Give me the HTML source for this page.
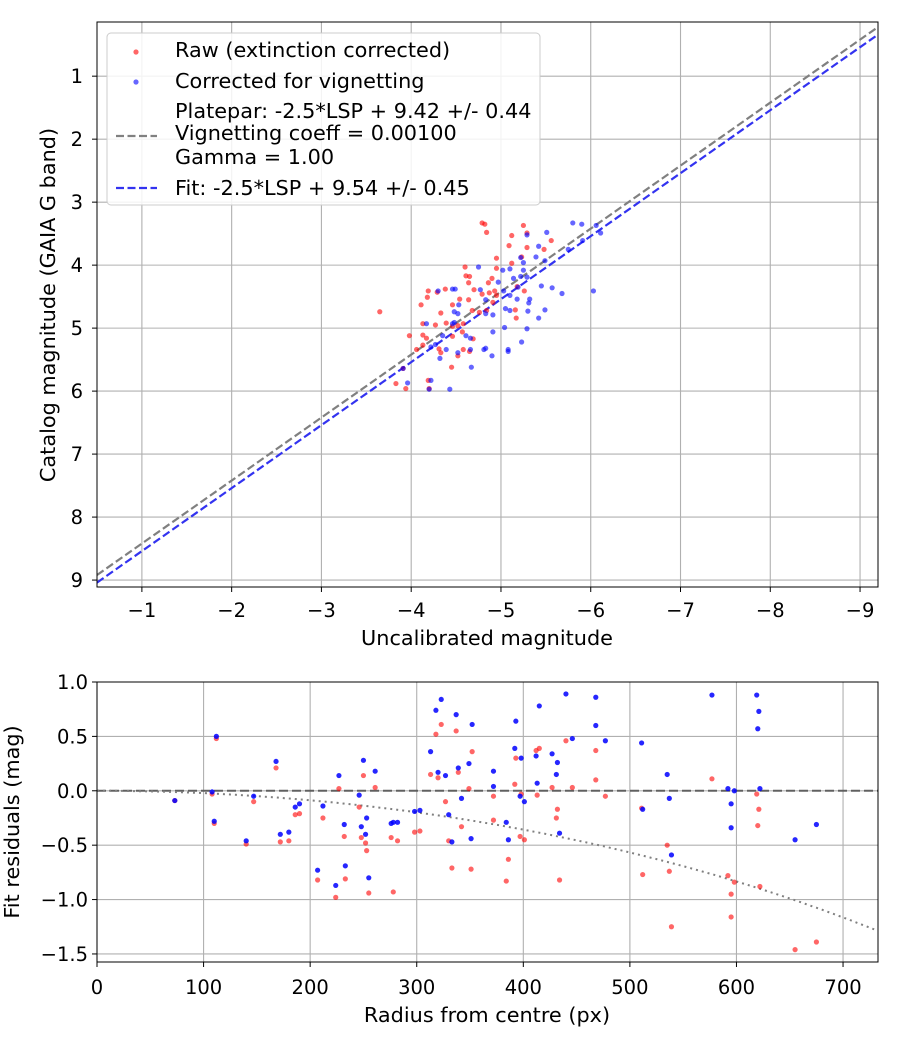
<!DOCTYPE html>
<html><head><meta charset="utf-8"><style>
body{margin:0;background:#fff;font-family:"Liberation Sans","DejaVu Sans",sans-serif;}
svg text{font-family:"DejaVu Sans","Liberation Sans",sans-serif;fill:#000;}
</style></head><body>
<svg id="c" width="900" height="1050" viewBox="0 0 900 1050" xmlns="http://www.w3.org/2000/svg"></svg>
<script>
const topXTicks=[-1,-2,-3,-4,-5,-6,-7,-8,-9];
const topYTicks=[1,2,3,4,5,6,7,8,9];
const botXTicks=[0,100,200,300,400,500,600,700];
const botYTicks=[1.0,0.5,0.0,-0.5,-1.0,-1.5];
const plateparOffset=9.42;
const fitOffset=9.54;
const vignettingCoeff=0.001;
const rawX=[-4.79,-4.82,-4.84,-5.25,-5.12,-5.29,-5.09,-5.29,-5.56,-5.48,-4.95,-5.23,-5.12,-4.60,-4.95,-4.61,-4.65,-4.64,-4.90,-4.86,-4.19,-4.29,-4.38,-4.18,-4.70,-4.79,-4.87,-4.93,-4.95,-4.91,-5.18,-5.26,-4.54,-4.64,-4.46,-4.11,-4.68,-4.76,-4.84,-4.33,-5.16,-5.17,-4.13,-4.27,-4.39,-4.46,-4.58,-4.52,-3.98,-4.13,-4.17,-4.46,-4.57,-4.69,-4.06,-4.13,-4.31,-4.33,-4.58,-4.65,-4.52,-4.45,-3.91,-3.83,-3.94,-4.19,-4.20,-3.65];
const rawY=[3.33,3.35,3.48,3.37,3.53,3.49,3.69,3.72,3.61,3.75,3.89,3.87,3.97,4.03,4.05,4.17,4.18,4.28,4.21,4.28,4.41,4.43,4.38,4.51,4.39,4.46,4.44,4.41,4.48,4.59,4.34,4.41,4.54,4.55,4.63,4.63,4.72,4.75,4.72,4.76,4.71,4.84,4.93,4.95,4.92,4.97,4.93,4.96,5.12,5.11,5.16,5.13,5.06,5.17,5.34,5.27,5.33,5.39,5.34,5.37,5.44,5.62,5.64,5.88,5.96,5.83,5.96,4.74];
const corrX=[-5.80,-5.90,-6.06,-6.11,-5.29,-5.51,-5.91,-5.42,-5.39,-5.22,-5.25,-5.49,-5.75,-4.75,-5.02,-5.10,-5.25,-5.14,-5.22,-5.29,-4.97,-5.45,-5.57,-5.68,-6.03,-4.30,-4.46,-4.49,-4.77,-5.03,-5.10,-5.19,-5.18,-5.32,-5.31,-4.83,-4.53,-4.48,-4.52,-4.83,-4.91,-5.05,-5.10,-5.30,-5.49,-5.42,-4.17,-4.46,-4.48,-5.04,-5.29,-4.35,-4.61,-4.66,-4.91,-4.22,-4.27,-4.39,-4.52,-4.66,-4.81,-4.83,-4.90,-5.08,-5.08,-5.23,-4.32,-4.67,-3.91,-3.96,-4.22,-4.43,-4.20];
const corrY=[3.33,3.35,3.37,3.49,3.52,3.48,3.61,3.70,3.87,3.88,3.96,3.93,3.75,4.03,4.08,4.06,4.08,4.21,4.18,4.19,4.27,4.33,4.36,4.45,4.41,4.41,4.38,4.38,4.39,4.41,4.48,4.35,4.54,4.54,4.60,4.55,4.63,4.74,4.77,4.77,4.79,4.69,4.72,4.73,4.71,4.84,4.93,4.93,4.91,4.99,5.01,5.12,5.12,5.16,5.06,5.30,5.26,5.34,5.39,5.34,5.34,5.32,5.44,5.34,5.37,5.22,5.48,5.62,5.64,5.87,5.83,5.97,5.97];
const radius=[73,108,112,110,140,147,168,172,180,186,190,207,212,224,227,233,232,246,248,250,252,253,255,261,276,278,282,298,303,313,318,320,323,327,330,333,337,339,342,349,351,352,372,372,384,386,392,393,397,398,401,413,412,415,427,431,432,434,440,446,468,468,477,511,512,535,537,539,577,592,595,595,598,619,620,621,622,655,675];
const residCorr=[-0.09,-0.01,0.50,-0.28,-0.46,-0.05,0.27,-0.40,-0.38,-0.15,-0.12,-0.73,-0.14,-0.87,0.14,-0.69,-0.31,-0.04,-0.33,0.28,-0.40,-0.25,-0.80,0.18,-0.30,-0.29,-0.29,-0.19,-0.18,0.36,0.74,0.17,0.84,0.14,-0.22,-0.47,0.70,0.21,-0.07,0.25,-0.44,0.61,0.18,0.04,-0.29,-0.45,0.39,0.64,-0.05,0.30,-0.10,0.07,0.32,0.78,0.34,0.15,0.26,-0.39,0.89,0.48,0.86,0.60,0.46,0.44,-0.17,0.15,-0.07,-0.59,0.88,0.02,-0.12,-0.34,0.00,0.88,0.57,0.73,0.02,-0.45,-0.31];
const residRaw=[-0.09,-0.03,0.48,-0.30,-0.49,-0.10,0.21,-0.47,-0.46,-0.22,-0.21,-0.82,-0.25,-0.98,0.02,-0.81,-0.42,-0.15,-0.43,0.14,-0.48,-0.55,-0.94,0.03,-0.43,-0.93,-0.46,-0.38,-0.37,0.15,0.52,0.12,0.61,-0.10,-0.46,-0.71,0.55,0.17,-0.33,0.02,-0.72,0.36,-0.05,-0.27,-0.83,-0.63,0.06,0.30,-0.42,-0.03,-0.45,-0.04,0.37,0.39,0.03,-0.25,-0.17,-0.82,0.46,0.03,0.37,0.10,-0.05,-0.16,-0.77,-0.50,-0.74,-1.25,0.11,-0.78,-1.16,-0.95,-0.84,-0.03,-0.32,-0.17,-0.88,-1.46,-1.39];

const NS='http://www.w3.org/2000/svg';
const svg=document.getElementById('c');
function mk(tag,attrs,parent){const e=document.createElementNS(NS,tag);for(const k in attrs)e.setAttribute(k,attrs[k]);(parent||svg).appendChild(e);return e;}
const TF=19.5, LF=20.8;

const T={l:97,r:878,t:22,b:587,x0:-0.5,x1:-9.2,y0:0.14,y1:9.11};
const tx=v=>T.l+(v-T.x0)/(T.x1-T.x0)*(T.r-T.l);
const ty=v=>T.t+(v-T.y0)/(T.y1-T.y0)*(T.b-T.t);
const B={l:97,r:878,t:682,b:962,x0:0,x1:732.8,y0:1.0,y1:-1.574};
const bx=v=>B.l+(v-B.x0)/(B.x1-B.x0)*(B.r-B.l);
const by=v=>B.t+(v-B.y0)/(B.y1-B.y0)*(B.b-B.t);

function clip(id,A){const d=mk('clipPath',{id:id});mk('rect',{x:A.l,y:A.t,width:A.r-A.l,height:A.b-A.t},d);}
clip('ct',T);clip('cb',B);

const gTop=mk('g',{});


topXTicks.forEach(v=>{const x=tx(v);mk('line',{x1:x,x2:x,y1:T.t,y2:T.b,stroke:'#b0b0b0','stroke-width':1.1},gTop);mk('line',{x1:x,x2:x,y1:T.b,y2:T.b+5,stroke:'#000'},gTop);
 const t=mk('text',{x:x,y:T.b+30,'text-anchor':'middle','font-size':TF},gTop);t.textContent='\u2212'+Math.abs(v);
 
 });
topYTicks.forEach(v=>{const y=ty(v);mk('line',{x1:T.l,x2:T.r,y1:y,y2:y,stroke:'#b0b0b0','stroke-width':1.1},gTop);mk('line',{x1:T.l-5,x2:T.l,y1:y,y2:y,stroke:'#000'},gTop);
 const t=mk('text',{x:T.l-14,y:y+7,'text-anchor':'end','font-size':TF},gTop);t.textContent=v;
 
 });

const gl=mk('g',{'clip-path':'url(#ct)'});


const l1=mk('line',{x1:tx(T.x0),y1:ty(T.x0+plateparOffset),x2:tx(T.x1),y2:ty(T.x1+plateparOffset),stroke:'#808080','stroke-width':2.2,'stroke-dasharray':'8 3.5'},gl);


const l2=mk('line',{x1:tx(T.x0),y1:ty(T.x0+fitOffset),x2:tx(T.x1),y2:ty(T.x1+fitOffset),stroke:'#3333f0','stroke-width':2.2,'stroke-dasharray':'8 3.5'},gl);


rawX.forEach((v,i)=>{const c=mk('circle',{cx:tx(v),cy:ty(rawY[i]),r:2.6,fill:'rgba(255,0,0,0.6)'});
 
 });
corrX.forEach((v,i)=>{const c=mk('circle',{cx:tx(v),cy:ty(corrY[i]),r:2.6,fill:'rgba(0,0,255,0.6)'});
 
 });
mk('rect',{x:T.l,y:T.t,width:T.r-T.l,height:T.b-T.t,fill:'none',stroke:'#000','stroke-width':1});

const lg=mk('g',{});


mk('rect',{x:107,y:33,width:433,height:172,rx:4,fill:'rgba(255,255,255,0.85)',stroke:'#ccc'},lg);
mk('circle',{cx:136,cy:52,r:2.6,fill:'rgba(255,0,0,0.6)'},lg);
mk('circle',{cx:136,cy:82,r:2.6,fill:'rgba(0,0,255,0.6)'},lg);
mk('line',{x1:116,x2:157,y1:136,y2:136,stroke:'#808080','stroke-width':2.2,'stroke-dasharray':'8 3.5'},lg);
mk('line',{x1:116,x2:157,y1:188,y2:188,stroke:'#3333f0','stroke-width':2.2,'stroke-dasharray':'8 3.5'},lg);
[['Raw (extinction corrected)',57],['Corrected for vignetting',88],['Platepar: -2.5*LSP + 9.42 +/- 0.44',118],['Vignetting coeff = 0.00100',140],['Gamma = 1.00',164],['Fit: -2.5*LSP + 9.54 +/- 0.45',195]].forEach(a=>{
 const t=mk('text',{x:175,y:a[1],'font-size':LF},lg);t.textContent=a[0];
 
 });

let t=mk('text',{x:487,y:645,'text-anchor':'middle','font-size':LF});t.textContent='Uncalibrated magnitude';


t=mk('text',{x:0,y:0,'text-anchor':'middle','font-size':LF,transform:'translate(55,305) rotate(-90)'});t.textContent='Catalog magnitude (GAIA G band)';



const gB=mk('g',{});


botXTicks.forEach(v=>{const x=bx(v);mk('line',{x1:x,x2:x,y1:B.t,y2:B.b,stroke:'#b0b0b0','stroke-width':1.1},gB);mk('line',{x1:x,x2:x,y1:B.b,y2:B.b+5,stroke:'#000'},gB);
 const tt=mk('text',{x:x,y:B.b+32,'text-anchor':'middle','font-size':TF},gB);tt.textContent=v;
 
 });
botYTicks.forEach(v=>{const y=by(v);mk('line',{x1:B.l,x2:B.r,y1:y,y2:y,stroke:'#b0b0b0','stroke-width':1.1},gB);mk('line',{x1:B.l-5,x2:B.l,y1:y,y2:y,stroke:'#000'},gB);
 const tt=mk('text',{x:B.l-9,y:y+7,'text-anchor':'end','font-size':TF},gB);tt.textContent=(v<0?'\u2212':'')+Math.abs(v).toFixed(1);
 
 });
const gb2=mk('g',{'clip-path':'url(#cb)'});
const zl=mk('line',{x1:B.l,x2:B.r,y1:by(0),y2:by(0),stroke:'#555','stroke-opacity':0.9,'stroke-width':2,'stroke-dasharray':'9 4'},gb2);


let d='';for(let r=0;r<=740;r+=5){const c=Math.cos(vignettingCoeff*r);const v=2.5*Math.log10(Math.pow(c,4));d+=(r?'L':'M')+bx(r).toFixed(1)+','+by(v).toFixed(1);}
const vc=mk('path',{d:d,fill:'none',stroke:'#808080','stroke-width':2,'stroke-dasharray':'2 4'},gb2);


radius.forEach((r,i)=>{const c=mk('circle',{cx:bx(r),cy:by(residRaw[i]),r:2.6,fill:'rgba(255,0,0,0.6)'});
 
 });
radius.forEach((r,i)=>{const c=mk('circle',{cx:bx(r),cy:by(residCorr[i]),r:2.6,fill:'rgba(0,0,255,0.85)'});
 
 });
mk('rect',{x:B.l,y:B.t,width:B.r-B.l,height:B.b-B.t,fill:'none',stroke:'#000','stroke-width':1});
t=mk('text',{x:487,y:1022,'text-anchor':'middle','font-size':LF});t.textContent='Radius from centre (px)';


t=mk('text',{x:0,y:0,'text-anchor':'middle','font-size':LF,transform:'translate(19,822) rotate(-90)'});t.textContent='Fit residuals (mag)';


</script>
</body></html>
